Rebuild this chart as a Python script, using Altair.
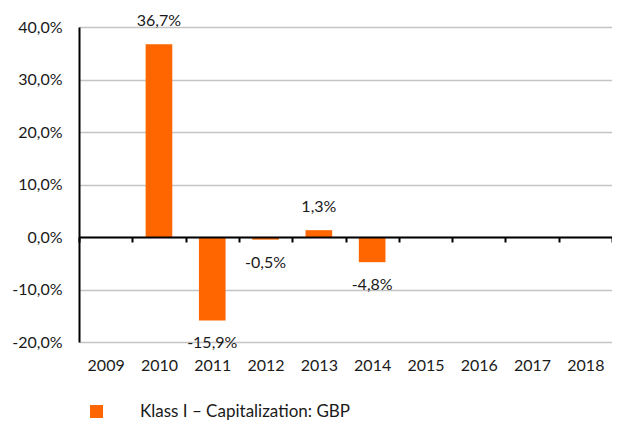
import altair as alt
import pandas as pd

years = ["2009", "2010", "2011", "2012", "2013", "2014", "2015", "2016", "2017", "2018"]
values = [None, 0.367, -0.159, -0.005, 0.013, -0.048, None, None, None, None]
series_name = "Klass I – Capitalization: GBP"
y_ticks = [-0.2, -0.1, 0.0, 0.1, 0.2, 0.3, 0.4]

df = pd.DataFrame({"year": years, "value": values, "series": series_name})

FONT = "Lato"
ORANGE = "#FF6600"
FMT = "replace(replace(format(datum.value, '.1%'), '.', ','), '\u2212', '-')"

x_scale = alt.Scale(domain=years, paddingInner=0, paddingOuter=0)

x_enc = alt.X(
    "year:N",
    title=None,
    scale=x_scale,
    axis=alt.Axis(
        offset=-105,
        domainColor="#000000",
        domainWidth=2,
        tickColor="#000000",
        tickWidth=2,
        tickSize=5,
        tickBand="extent",
        labelPadding=115,
        labelAngle=0,
        labelFont=FONT,
        labelFontSize=16,
        labelColor="#1a1a1a",
        grid=False,
        zindex=1,
    ),
)

y_enc = alt.Y(
    "value:Q",
    title=None,
    scale=alt.Scale(domain=[-0.2, 0.4], nice=False),
    axis=alt.Axis(
        values=y_ticks,
        labelExpr=FMT,
        domainColor="#000000",
        domainWidth=2,
        ticks=False,
        labelPadding=17,
        labelFont=FONT,
        labelFontSize=16,
        labelColor="#1a1a1a",
        grid=True,
        gridColor="#c4c4c4",
        gridWidth=1.5,
    ),
)

base = alt.Chart(df).transform_filter("datum.value != null")

bars = base.mark_bar(width=alt.RelativeBandSize(0.5)).encode(
    x=x_enc,
    y=y_enc,
    color=alt.Color(
        "series:N",
        scale=alt.Scale(range=[ORANGE]),
        legend=alt.Legend(
            title=None,
            orient="none",
            legendX=9,
            legendY=376,
            symbolType="square",
            symbolSize=169,
            symbolStrokeWidth=0,
            labelFont=FONT,
            labelFontSize=17,
            labelColor="#1a1a1a",
            labelOffset=35,
            labelLimit=500,
            padding=0,
        ),
    ),
)

lab = base.transform_calculate(label=FMT)

pos_text = lab.transform_filter("datum.value >= 0").mark_text(
    font=FONT, fontSize=16, color="#1a1a1a", baseline="middle", dy=-23
).encode(x=alt.X("year:N", scale=x_scale), y="value:Q", text="label:N")

neg_text = lab.transform_filter("datum.value < 0").mark_text(
    font=FONT, fontSize=16, color="#1a1a1a", baseline="middle", dy=23
).encode(x=alt.X("year:N", scale=x_scale), y="value:Q", text="label:N")

chart = (
    alt.layer(bars, pos_text, neg_text)
    .properties(
        width=533,
        height=315,
        padding={"left": 71, "top": 19, "right": 0, "bottom": 80},
        autosize=alt.AutoSizeParams(type="none"),
    )
    .configure_view(stroke=None)
    .configure(background="white")
)

chart.save("out.html", embed_options={"renderer": "svg", "actions": False})
